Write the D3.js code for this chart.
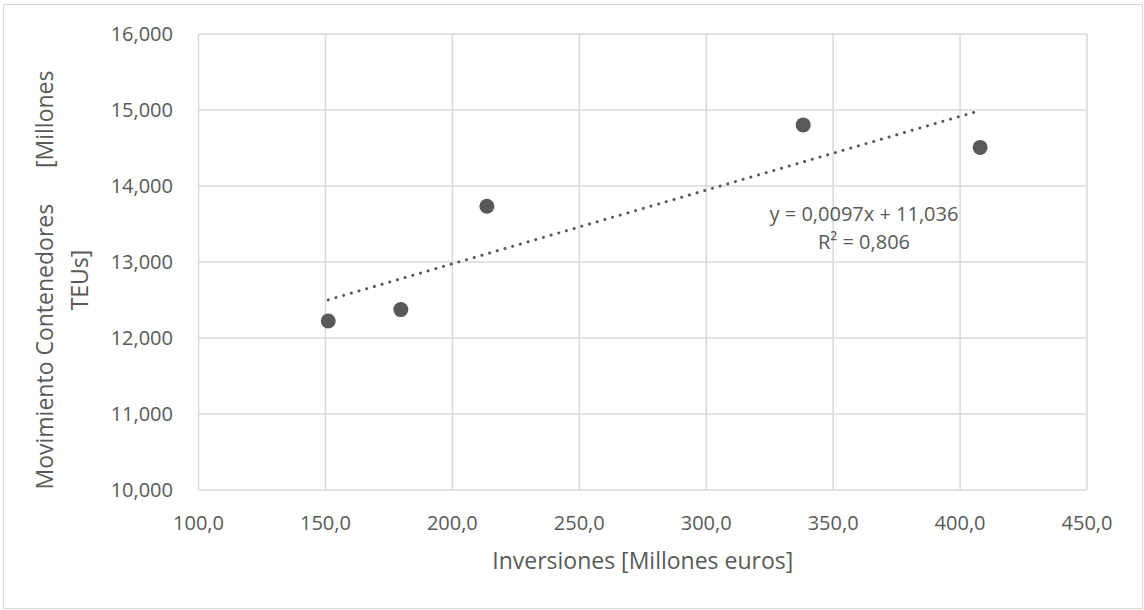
<!DOCTYPE html>
<html><head><meta charset="utf-8">
<script src="https://cdn.jsdelivr.net/npm/d3@7"></script>
<style>
body{margin:0;background:#fff;}
text{font-family:"Open Sans",sans-serif;fill:#595959;}
</style></head>
<body><svg id="c" width="1144" height="610"></svg>
<script>
const xValues = [151.1, 179.7, 213.6, 338.2, 407.9];
const yValues = [12.224, 12.374, 13.733, 14.804, 14.508];
const xTicks = [100, 150, 200, 250, 300, 350, 400, 450];
const yTicks = [10, 11, 12, 13, 14, 15, 16];
const trendSlope = 0.0097, trendIntercept = 11.036;
const trendLabel = ["y = 0,0097x + 11,036", "R² = 0,806"];
const xTitle = "Inversiones [Millones euros]";
const yTitle = ["Movimiento Contenedores      [Millones", "TEUs]"];

const svg = d3.select("#c");
svg.append("rect").attr("x",3.5).attr("y",4.5).attr("width",1139).attr("height",604)
  .attr("fill","#fff").attr("stroke","#d9d9d9").attr("stroke-width",1);

const L=198.5,R=1087,T=34,B=490;
const x = d3.scaleLinear().domain([100,450]).range([L,R]);
const y = d3.scaleLinear().domain([10,16]).range([B,T]);
const fmtX = v => d3.format(".1f")(v).replace(".",",");
const fmtY = v => d3.format(",.3f")(v).replace(".",",");

const g = svg.append("g");
// gridlines
g.selectAll(".gx").data(xTicks).join("line")
  .attr("x1",d=>x(d)).attr("x2",d=>x(d)).attr("y1",T).attr("y2",B)
  .attr("stroke","#d9d9d9").attr("stroke-width",1.5);
g.selectAll(".gy").data(yTicks).join("line")
  .attr("x1",L).attr("x2",R).attr("y1",d=>y(d)).attr("y2",d=>y(d))
  .attr("stroke","#d9d9d9").attr("stroke-width",1.5);

// tick labels
g.selectAll(".tx").data(xTicks).join("text")
  .attr("x",d=>x(d)).attr("y",530).attr("text-anchor","middle")
  .attr("font-size",20).text(fmtX);
g.selectAll(".ty").data(yTicks).join("text")
  .attr("x",173).attr("y",d=>y(d)+6.5).attr("text-anchor","end")
  .attr("font-size",20).text(fmtY);

// trendline
const x0=d3.min(xValues), x1=d3.max(xValues);
g.append("line")
  .attr("x1",x(x0)).attr("y1",y(trendSlope*x0+trendIntercept))
  .attr("x2",x(x1)).attr("y2",y(trendSlope*x1+trendIntercept))
  .attr("stroke","#595959").attr("stroke-width",3).attr("stroke-linecap","round")
  .attr("stroke-dasharray","0.1 7.9");

// points
g.selectAll(".pt").data(xValues).join("circle")
  .attr("cx",d=>x(d)).attr("cy",(d,i)=>y(yValues[i])).attr("r",7.5)
  .attr("fill","#595959");

// trend label
g.selectAll(".tl").data(trendLabel).join("text")
  .attr("x",864).attr("y",(d,i)=>221+i*27.5).attr("text-anchor","middle")
  .attr("font-size",20).text(d=>d);

// axis titles
svg.append("text").attr("x",(L+R)/2).attr("y",569).attr("text-anchor","middle")
  .attr("font-size",23).text(xTitle);
const yt = svg.append("text").attr("transform","translate(0,280) rotate(-90)")
  .attr("text-anchor","middle").attr("font-size",23).style("white-space","pre");
yTitle.forEach((t,i)=>yt.append("tspan").attr("x",0).attr("y",i===0?53:88).text(t));
</script></body></html>
